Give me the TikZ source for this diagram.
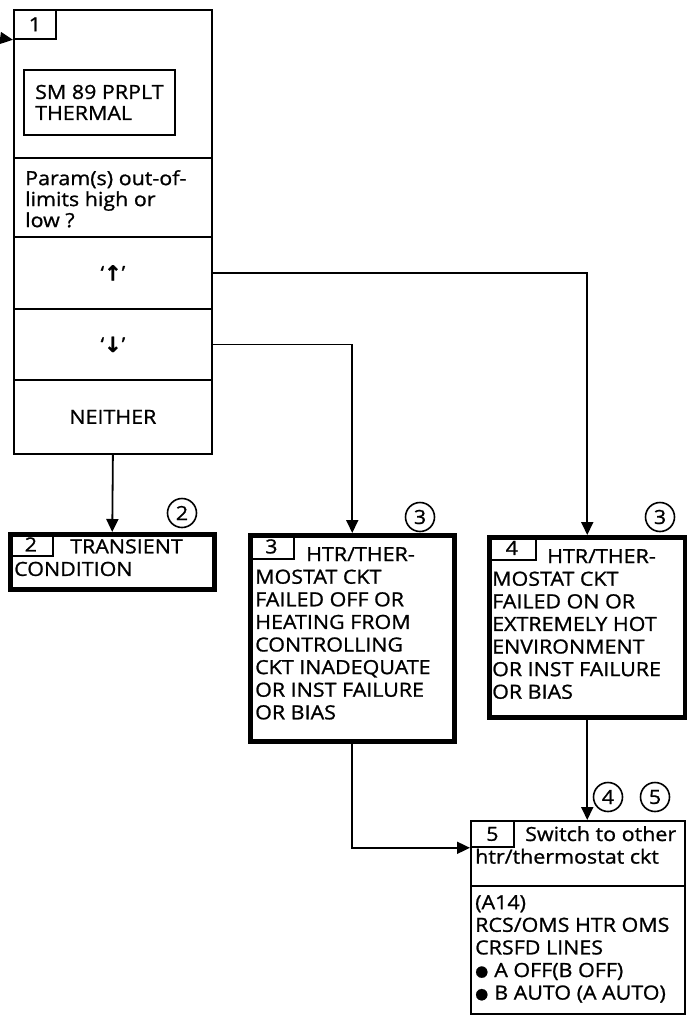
\documentclass[tikz,border=0pt]{standalone}
\usepackage{fontspec}
\setmainfont{Open Sans}[FakeStretch=1.1,FakeBold=1]
\newfontfamily\symfont{DejaVu Sans}[FakeBold=1]
\usetikzlibrary{arrows.meta}
\newcommand\blt{\raisebox{1pt}{\symfont\fontsize{15}{15}\selectfont ●}\hspace{6pt}}
\begin{document}
\begin{tikzpicture}[x=1pt,y=-1pt,
  every node/.style={font=\fontsize{19.5}{22.6}\selectfont},
  tight/.style={font=\fontsize{19.5}{21}\selectfont},
  frame/.style={draw,line width=1.8pt,rectangle,inner sep=0pt,anchor=north west},
  heavy/.style={draw,line width=4.5pt,rectangle,inner sep=0pt,anchor=north west},
  txt/.style={align=left,inner sep=0pt,anchor=north west},
  conn/.style={line width=1.8pt},
  arr/.style={conn,-{Triangle[length=13pt,width=12pt]}},
  badge/.style={draw,circle,line width=1.6pt,minimum size=29pt,inner sep=0pt}
]
\useasboundingbox (0,0) rectangle (687,1025);

% box 1 sections
\node[frame,minimum width=198pt,minimum height=148pt] (s1) at (13,9) {};
\node[frame,minimum width=198pt,minimum height=79pt] (s2) at (13,157) {};
\node[frame,minimum width=198pt,minimum height=72pt] (s3) at (13,236) {\fontsize{19}{19}\selectfont`\raisebox{-1pt}{\symfont\bfseries\fontsize{21}{21}\selectfont ↑}'};
\node[frame,minimum width=198pt,minimum height=71pt] (s4) at (13,308) {\fontsize{19}{19}\selectfont`\raisebox{-1pt}{\symfont\bfseries\fontsize{21}{21}\selectfont ↓}'};
\node[frame,minimum width=198pt,minimum height=74pt] (s5) at (13,379) {NEITHER};
\node[frame,minimum width=42pt,minimum height=29pt] (n1) at (13,9) {1};
\node[frame,tight,minimum width=151pt,minimum height=65pt,align=left] (sm) at (23,69) {SM 89 PRPLT\\THERMAL};
\node[txt,tight] (pt) at (25,170) {Param(s) out-of-\\limits high or\\low ?};
\coordinate (entry) at (0,38);

% box 2
\node[heavy,minimum width=204pt,minimum height=55pt] (b2) at (8,532) {};
\node[frame,minimum width=44pt,minimum height=23pt] (n2) at (8,532) {2};
\node[txt] (t2) at (14,539) {\hspace*{56pt}TRANSIENT\\CONDITION};

% box 3
\node[heavy,minimum width=204pt,minimum height=206pt] (b3) at (248,533) {};
\node[frame,minimum width=45pt,minimum height=25pt] (n3) at (248,533) {3};
\node[txt] (t3) at (255,547) {\hspace*{51pt}HTR/THER-\\MOSTAT CKT\\FAILED OFF OR\\HEATING FROM\\CONTROLLING\\CKT INADEQUATE\\OR INST FAILURE\\OR BIAS};

% box 4
\node[heavy,minimum width=196pt,minimum height=180pt] (b4) at (487,535) {};
\node[frame,minimum width=48pt,minimum height=24pt] (n4) at (487,535) {4};
\node[txt] (t4) at (492,549) {\hspace*{55pt}HTR/THER-\\MOSTAT CKT\\FAILED ON OR\\EXTREMELY HOT\\ENVIRONMENT\\OR INST FAILURE\\OR BIAS};

% box 5
\node[frame,minimum width=214pt,minimum height=65pt] (b5) at (470,820) {};
\node[frame,minimum width=214pt,minimum height=128pt] (b5b) at (470,885) {};
\node[frame,minimum width=43pt,minimum height=26pt] (n5) at (470,820) {5};
\node[txt] (t5) at (475,826) {\hspace*{50pt}Switch to other\\htr/thermostat ckt};
\node[txt] (t5b) at (475,895) {(A14)\\RCS/OMS HTR OMS\\CRSFD LINES\\\blt A OFF(B OFF)\\\blt B AUTO (A AUTO)};

% badges
\node[badge] (c2) at (182,513) {2};
\node[badge] (c3a) at (420,517) {3};
\node[badge] (c3b) at (660,517) {3};
\node[badge] (c4) at (608,797) {4};
\node[badge] (c5) at (655,797) {5};

% connectors
\draw[arr] (entry) -- (n1.south west);
\draw[arr] (s3.east) -| (b4.north);
\draw[arr] (s4.east) -| (b3.north);
\draw[arr] (s5.south) -- (b2.north);
\draw[arr] (b3.south) |- (n5.south west);
\draw[arr] (b4.south) -- (b4.south |- b5.north);
\end{tikzpicture}
\end{document}
